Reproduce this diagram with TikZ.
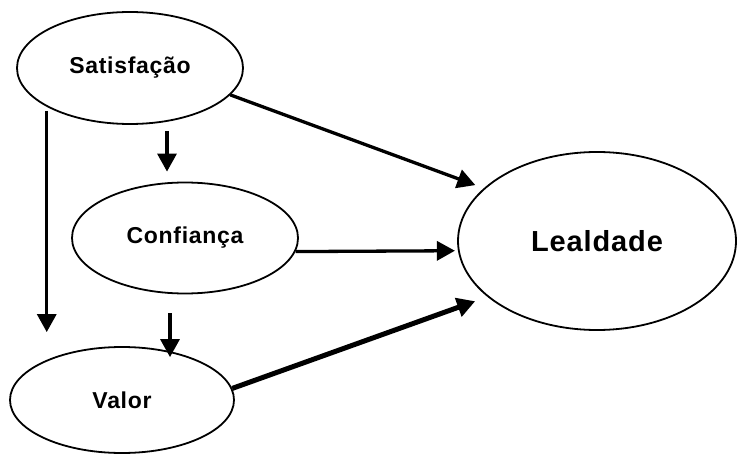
\documentclass[tikz,border=0pt]{standalone}
\usepackage{fontspec}
\setmainfont{Liberation Sans}[LetterSpace=3]
\usetikzlibrary{arrows.meta,shapes.geometric}
\begin{document}
\begin{tikzpicture}[x=1pt,y=-1pt,
  oval/.style={ellipse,draw,line width=1.8pt,inner sep=0pt,font=\bfseries\fontsize{23}{27}\selectfont},
  arr/.style={line width=3.3pt,-{Triangle[length=18pt,width=19pt]}},
  thickarr/.style={line width=5pt,-{Triangle[length=18pt,width=19pt]}}]
\useasboundingbox[fill=white] (0,0) rectangle (738,454);
\node[oval,minimum width=226pt,minimum height=112pt] (sat) at (130,68) {Satisfação};
\node[oval,minimum width=226pt,minimum height=111pt] (conf) at (185,238) {Confiança};
\node[oval,minimum width=224pt,minimum height=106pt] (val) at (122,400) {Valor};
\node[oval,minimum width=278pt,minimum height=178pt,font=\bfseries\fontsize{29}{34}\selectfont] (leal) at (597,241) {Lealdade};
% vertical arrows
\draw[arr] ([yshift=-4pt]sat.205.7) -- ([yshift=14pt]sat.205.7 |- val.north);
\draw[arr] ([xshift=-18pt]conf.north |- sat.south) ++(0,-6pt) -- ([xshift=-18pt,yshift=10pt]conf.north);
\draw[arr] ([xshift=-15pt,yshift=-19pt]conf.south) -- ([xshift=48pt,yshift=-11pt]val.north);
% arrows to Lealdade
\draw[arr,shorten >=9pt] (sat.-15) -- (leal.155);
\draw[arr,shorten >=3pt] (conf.-7) -- (leal.184);
\draw[thickarr,shorten >=13pt] (val.6) -- (leal.207);
\end{tikzpicture}
\end{document}
